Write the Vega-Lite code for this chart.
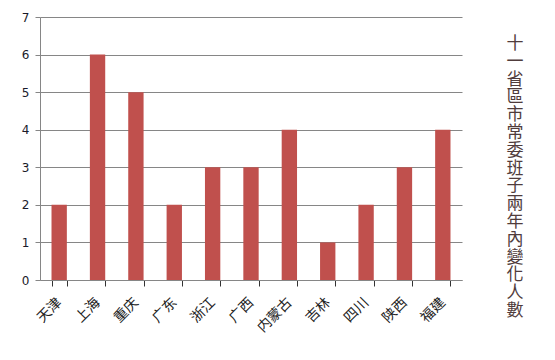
{
  "$schema": "https://vega.github.io/schema/vega-lite/v6.json",
  "width": 422,
  "height": 263,
  "autosize": {"type": "none"},
  "padding": {"left": 40, "top": 17, "right": 93, "bottom": 80},
  "background": "#ffffff",
  "title": {
    "text": ["十","一","省","區","市","常","委","班","子","兩","年","內","變","化","人","數"],
    "orient": "right",
    "angle": 0,
    "anchor": "start",
    "align": "center",
    "baseline": "top",
    "offset": 36,
    "font": "Noto Sans CJK TC",
    "fontSize": 17,
    "fontWeight": "normal",
    "lineHeight": 17.8,
    "color": "#503c3c",
    "dy": 25
  },
  "data": {
    "values": [
      {"province": "天津", "count": 2},
      {"province": "上海", "count": 6},
      {"province": "重庆", "count": 5},
      {"province": "广东", "count": 2},
      {"province": "浙江", "count": 3},
      {"province": "广西", "count": 3},
      {"province": "内蒙古", "count": 4},
      {"province": "吉林", "count": 1},
      {"province": "四川", "count": 2},
      {"province": "陕西", "count": 3},
      {"province": "福建", "count": 4}
    ]
  },
  "mark": {"type": "bar", "color": "#c0504d"},
  "encoding": {
    "x": {
      "field": "province",
      "type": "nominal",
      "sort": null,
      "scale": {"paddingInner": 0.6, "paddingOuter": 0.3},
      "axis": {
        "title": null,
        "labelAngle": -45,
        "labelAlign": "right",
        "labelBaseline": "middle",
        "labelFont": "Noto Sans CJK SC",
        "labelFontSize": 14,
        "labelColor": "#222222",
        "labelPadding": 14,
        "ticks": true,
        "tickBand": "extent",
        "tickSize": 6,
        "tickWidth": 1,
        "tickColor": "#333333",
        "tickOpacity": 1,
        "domain": true,
        "domainColor": "#868686",
        "grid": false,
        "zindex": 1
      }
    },
    "y": {
      "field": "count",
      "type": "quantitative",
      "scale": {"domain": [0, 7], "nice": false},
      "axis": {
        "title": null,
        "values": [0, 1, 2, 3, 4, 5, 6, 7],
        "grid": true,
        "gridColor": "#868686",
        "gridWidth": 1,
        "domainColor": "#868686",
        "tickColor": "#868686",
        "tickSize": 5,
        "labelFont": "DejaVu Sans",
        "labelFontSize": 12,
        "labelColor": "#1a1a2a",
        "labelPadding": 6
      }
    }
  },
  "config": {"view": {"stroke": null}, "axisX": {"ticks": true, "tickColor": "#333333"}}
}
